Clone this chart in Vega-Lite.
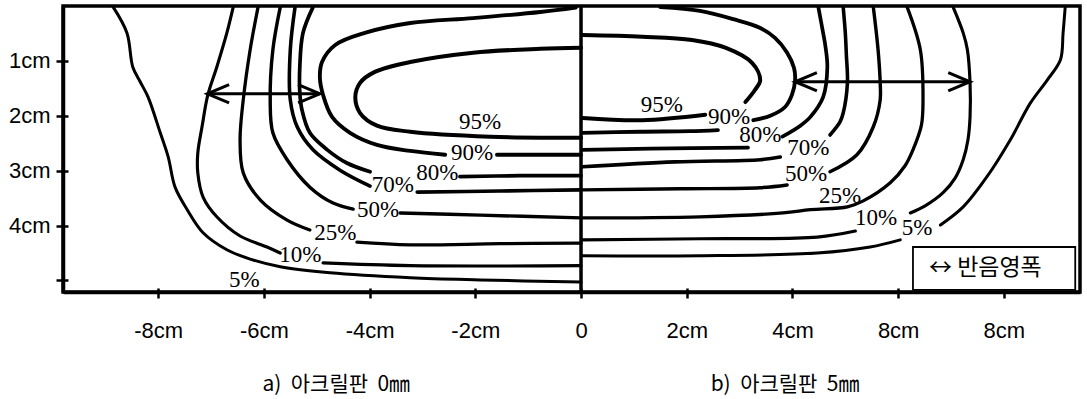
{
  "$schema": "https://vega.github.io/schema/vega-lite/v6.json",
  "width": 1017,
  "height": 286,
  "autosize": {"type": "none"},
  "padding": {"left": 63, "top": 6, "right": 7, "bottom": 107},
  "background": "white",
  "config": {"view": {"stroke": "black", "strokeWidth": 3.5}},
  "datasets": {
    "lines": [
      {"s":"L5","c":"5%","o":1,"x":-8.85,"y":0.02},{"s":"L5","c":"5%","o":2,"x":-8.59,"y":0.49},{"s":"L5","c":"5%","o":3,"x":-8.48,"y":1.11},{"s":"L5","c":"5%","o":4,"x":-8.34,"y":1.38},{"s":"L5","c":"5%","o":5,"x":-8.19,"y":1.66},{"s":"L5","c":"5%","o":6,"x":-7.96,"y":2.31},{"s":"L5","c":"5%","o":7,"x":-7.81,"y":2.75},{"s":"L5","c":"5%","o":8,"x":-7.68,"y":3.30},{"s":"L5","c":"5%","o":9,"x":-7.45,"y":3.71},{"s":"L5","c":"5%","o":10,"x":-7.15,"y":4.13},{"s":"L5","c":"5%","o":11,"x":-6.70,"y":4.44},{"s":"L5","c":"5%","o":12,"x":-6.26,"y":4.61},{"s":"L5","c":"5%","o":13,"x":-5.69,"y":4.75},{"s":"L5","c":"5%","o":14,"x":-4.75,"y":4.86},{"s":"L5","c":"5%","o":15,"x":-3.23,"y":4.95},{"s":"L5","c":"5%","o":16,"x":-1.91,"y":4.99},{"s":"L5","c":"5%","o":17,"x":0,"y":5.03},
      {"s":"L10a","c":"10%","o":1,"x":-6.58,"y":0.02},{"s":"L10a","c":"10%","o":2,"x":-6.70,"y":0.49},{"s":"L10a","c":"10%","o":3,"x":-6.89,"y":1.11},{"s":"L10a","c":"10%","o":4,"x":-7.06,"y":1.62},{"s":"L10a","c":"10%","o":5,"x":-7.17,"y":2.20},{"s":"L10a","c":"10%","o":6,"x":-7.25,"y":2.68},{"s":"L10a","c":"10%","o":7,"x":-7.25,"y":3.04},{"s":"L10a","c":"10%","o":8,"x":-7.15,"y":3.48},{"s":"L10a","c":"10%","o":9,"x":-6.89,"y":3.84},{"s":"L10a","c":"10%","o":10,"x":-6.45,"y":4.19},{"s":"L10a","c":"10%","o":11,"x":-5.94,"y":4.39},{"s":"L10a","c":"10%","o":12,"x":-5.69,"y":4.50},
      {"s":"L10b","c":"10%","o":1,"x":-4.88,"y":4.68},{"s":"L10b","c":"10%","o":2,"x":-3.23,"y":4.73},{"s":"L10b","c":"10%","o":3,"x":0,"y":4.73},
      {"s":"L25a","c":"25%","o":1,"x":-6.11,"y":0.02},{"s":"L25a","c":"25%","o":2,"x":-6.26,"y":0.80},{"s":"L25a","c":"25%","o":3,"x":-6.39,"y":1.71},{"s":"L25a","c":"25%","o":4,"x":-6.45,"y":2.44},{"s":"L25a","c":"25%","o":5,"x":-6.39,"y":3.04},{"s":"L25a","c":"25%","o":6,"x":-6.07,"y":3.53},{"s":"L25a","c":"25%","o":7,"x":-5.56,"y":3.90},{"s":"L25a","c":"25%","o":8,"x":-5.13,"y":4.08},
      {"s":"L25b","c":"25%","o":1,"x":-4.24,"y":4.30},{"s":"L25b","c":"25%","o":2,"x":-3.23,"y":4.35},{"s":"L25b","c":"25%","o":3,"x":-1.53,"y":4.33},{"s":"L25b","c":"25%","o":4,"x":0,"y":4.32},
      {"s":"L50a","c":"50%","o":1,"x":-5.69,"y":0.02},{"s":"L50a","c":"50%","o":2,"x":-5.83,"y":0.80},{"s":"L50a","c":"50%","o":3,"x":-5.88,"y":1.71},{"s":"L50a","c":"50%","o":4,"x":-5.83,"y":2.31},{"s":"L50a","c":"50%","o":5,"x":-5.56,"y":2.80},{"s":"L50a","c":"50%","o":6,"x":-5.13,"y":3.30},{"s":"L50a","c":"50%","o":7,"x":-4.69,"y":3.59},{"s":"L50a","c":"50%","o":8,"x":-4.31,"y":3.70},
      {"s":"L50b","c":"50%","o":1,"x":-3.42,"y":3.77},{"s":"L50b","c":"50%","o":2,"x":-1.91,"y":3.81},{"s":"L50b","c":"50%","o":3,"x":0,"y":3.86},
      {"s":"L70a","c":"70%","o":1,"x":-5.41,"y":0.02},{"s":"L70a","c":"70%","o":2,"x":-5.50,"y":0.80},{"s":"L70a","c":"70%","o":3,"x":-5.50,"y":1.71},{"s":"L70a","c":"70%","o":4,"x":-5.37,"y":2.20},{"s":"L70a","c":"70%","o":5,"x":-5.07,"y":2.62},{"s":"L70a","c":"70%","o":6,"x":-4.56,"y":2.99},{"s":"L70a","c":"70%","o":7,"x":-3.99,"y":3.28},
      {"s":"L70b","c":"70%","o":1,"x":-3.10,"y":3.39},{"s":"L70b","c":"70%","o":2,"x":-1.53,"y":3.37},{"s":"L70b","c":"70%","o":3,"x":0,"y":3.35},
      {"s":"L80a","c":"80%","o":1,"x":-5.07,"y":0.02},{"s":"L80a","c":"80%","o":2,"x":-5.26,"y":0.49},{"s":"L80a","c":"80%","o":3,"x":-5.32,"y":1.11},{"s":"L80a","c":"80%","o":4,"x":-5.32,"y":1.58},{"s":"L80a","c":"80%","o":5,"x":-5.28,"y":1.89},{"s":"L80a","c":"80%","o":6,"x":-5.13,"y":2.31},{"s":"L80a","c":"80%","o":7,"x":-4.80,"y":2.62},{"s":"L80a","c":"80%","o":8,"x":-4.43,"y":2.86},{"s":"L80a","c":"80%","o":9,"x":-3.99,"y":3.02},
      {"s":"L80b","c":"80%","o":1,"x":-2.29,"y":3.11},{"s":"L80b","c":"80%","o":2,"x":-1.15,"y":3.09},{"s":"L80b","c":"80%","o":3,"x":0,"y":3.09},
      {"s":"L90a","c":"90%","o":1,"x":-0.10,"y":0.03},{"s":"L90a","c":"90%","o":2,"x":-0.77,"y":0.11},{"s":"L90a","c":"90%","o":3,"x":-2.04,"y":0.22},{"s":"L90a","c":"90%","o":4,"x":-3.23,"y":0.31},{"s":"L90a","c":"90%","o":5,"x":-4.09,"y":0.49},{"s":"L90a","c":"90%","o":6,"x":-4.65,"y":0.71},{"s":"L90a","c":"90%","o":7,"x":-4.90,"y":1.02},{"s":"L90a","c":"90%","o":8,"x":-4.94,"y":1.31},{"s":"L90a","c":"90%","o":9,"x":-4.88,"y":1.62},{"s":"L90a","c":"90%","o":10,"x":-4.71,"y":2.02},{"s":"L90a","c":"90%","o":11,"x":-4.37,"y":2.31},{"s":"L90a","c":"90%","o":12,"x":-3.86,"y":2.53},{"s":"L90a","c":"90%","o":13,"x":-3.23,"y":2.64},{"s":"L90a","c":"90%","o":14,"x":-2.57,"y":2.71},
      {"s":"L90b","c":"90%","o":1,"x":-1.59,"y":2.71},{"s":"L90b","c":"90%","o":2,"x":0,"y":2.71},
      {"s":"L95","c":"95%","o":1,"x":0,"y":0.76},{"s":"L95","c":"95%","o":2,"x":-0.77,"y":0.78},{"s":"L95","c":"95%","o":3,"x":-2.04,"y":0.85},{"s":"L95","c":"95%","o":4,"x":-3.23,"y":1.02},{"s":"L95","c":"95%","o":5,"x":-3.90,"y":1.20},{"s":"L95","c":"95%","o":6,"x":-4.18,"y":1.40},{"s":"L95","c":"95%","o":7,"x":-4.27,"y":1.66},{"s":"L95","c":"95%","o":8,"x":-4.18,"y":1.95},{"s":"L95","c":"95%","o":9,"x":-3.86,"y":2.18},{"s":"L95","c":"95%","o":10,"x":-3.23,"y":2.29},{"s":"L95","c":"95%","o":11,"x":-1.72,"y":2.38},{"s":"L95","c":"95%","o":12,"x":0,"y":2.40},
      {"s":"R95a","c":"95%","o":1,"x":0.03,"y":0.53},{"s":"R95a","c":"95%","o":2,"x":1.16,"y":0.56},{"s":"R95a","c":"95%","o":3,"x":2.10,"y":0.62},{"s":"R95a","c":"95%","o":4,"x":2.73,"y":0.76},{"s":"R95a","c":"95%","o":5,"x":3.24,"y":1.04},{"s":"R95a","c":"95%","o":6,"x":3.39,"y":1.35},{"s":"R95a","c":"95%","o":7,"x":3.29,"y":1.53},{"s":"R95a","c":"95%","o":8,"x":3.11,"y":1.75},
      {"s":"R95b","c":"95%","o":1,"x":0.03,"y":2.04},{"s":"R95b","c":"95%","o":2,"x":1.16,"y":2.08},{"s":"R95b","c":"95%","o":3,"x":2.35,"y":1.98},
      {"s":"R90a","c":"90%","o":1,"x":0.03,"y":2.31},{"s":"R90a","c":"90%","o":2,"x":1.12,"y":2.29},{"s":"R90a","c":"90%","o":3,"x":2.06,"y":2.28},{"s":"R90a","c":"90%","o":4,"x":2.59,"y":2.26},
      {"s":"R90b","c":"90%","o":1,"x":3.26,"y":2.08},{"s":"R90b","c":"90%","o":2,"x":3.58,"y":2.00},{"s":"R90b","c":"90%","o":3,"x":3.86,"y":1.84},{"s":"R90b","c":"90%","o":4,"x":3.99,"y":1.62},{"s":"R90b","c":"90%","o":5,"x":4.05,"y":1.35},{"s":"R90b","c":"90%","o":6,"x":4.03,"y":1.13},{"s":"R90b","c":"90%","o":7,"x":3.90,"y":0.85},{"s":"R90b","c":"90%","o":8,"x":3.67,"y":0.58},{"s":"R90b","c":"90%","o":9,"x":3.39,"y":0.40},{"s":"R90b","c":"90%","o":10,"x":2.88,"y":0.24},{"s":"R90b","c":"90%","o":11,"x":2.25,"y":0.09},{"s":"R90b","c":"90%","o":12,"x":1.50,"y":0.02},
      {"s":"R80a","c":"80%","o":1,"x":0.03,"y":2.62},{"s":"R80a","c":"80%","o":2,"x":1.31,"y":2.60},{"s":"R80a","c":"80%","o":3,"x":3.16,"y":2.58},
      {"s":"R80b","c":"80%","o":1,"x":3.81,"y":2.38},{"s":"R80b","c":"80%","o":2,"x":4.15,"y":2.18},{"s":"R80b","c":"80%","o":3,"x":4.34,"y":2.02},{"s":"R80b","c":"80%","o":4,"x":4.58,"y":1.66},{"s":"R80b","c":"80%","o":5,"x":4.66,"y":1.11},{"s":"R80b","c":"80%","o":6,"x":4.62,"y":0.71},{"s":"R80b","c":"80%","o":7,"x":4.58,"y":0.49},{"s":"R80b","c":"80%","o":8,"x":4.49,"y":0.02},
      {"s":"R70a","c":"70%","o":1,"x":0.03,"y":2.93},{"s":"R70a","c":"70%","o":2,"x":1.78,"y":2.84},{"s":"R70a","c":"70%","o":3,"x":3.39,"y":2.80},{"s":"R70a","c":"70%","o":4,"x":3.77,"y":2.75},
      {"s":"R70b","c":"70%","o":1,"x":4.71,"y":2.35},{"s":"R70b","c":"70%","o":2,"x":4.90,"y":2.11},{"s":"R70b","c":"70%","o":3,"x":4.96,"y":1.95},{"s":"R70b","c":"70%","o":4,"x":5.04,"y":1.40},{"s":"R70b","c":"70%","o":5,"x":5.02,"y":0.89},{"s":"R70b","c":"70%","o":6,"x":5.00,"y":0.49},{"s":"R70b","c":"70%","o":7,"x":4.96,"y":0.02},
      {"s":"R50a","c":"50%","o":1,"x":0.03,"y":3.35},{"s":"R50a","c":"50%","o":2,"x":1.88,"y":3.33},{"s":"R50a","c":"50%","o":3,"x":3.39,"y":3.31},{"s":"R50a","c":"50%","o":4,"x":3.90,"y":3.26},
      {"s":"R50b","c":"50%","o":1,"x":4.71,"y":3.02},{"s":"R50b","c":"50%","o":2,"x":5.22,"y":2.71},{"s":"R50b","c":"50%","o":3,"x":5.53,"y":2.20},{"s":"R50b","c":"50%","o":4,"x":5.66,"y":1.71},{"s":"R50b","c":"50%","o":5,"x":5.66,"y":1.40},{"s":"R50b","c":"50%","o":6,"x":5.62,"y":0.80},{"s":"R50b","c":"50%","o":7,"x":5.53,"y":0.02},
      {"s":"R25","c":"25%","o":1,"x":0.03,"y":3.86},{"s":"R25","c":"25%","o":2,"x":2.25,"y":3.84},{"s":"R25","c":"25%","o":3,"x":3.82,"y":3.77},{"s":"R25","c":"25%","o":4,"x":4.34,"y":3.71},{"s":"R25","c":"25%","o":5,"x":5.04,"y":3.66},{"s":"R25","c":"25%","o":6,"x":5.34,"y":3.55},{"s":"R25","c":"25%","o":7,"x":5.85,"y":3.22},{"s":"R25","c":"25%","o":8,"x":6.13,"y":2.91},{"s":"R25","c":"25%","o":9,"x":6.28,"y":2.62},{"s":"R25","c":"25%","o":10,"x":6.44,"y":2.17},{"s":"R25","c":"25%","o":11,"x":6.47,"y":1.71},{"s":"R25","c":"25%","o":12,"x":6.42,"y":0.80},{"s":"R25","c":"25%","o":13,"x":6.17,"y":0.02},
      {"s":"R10a","c":"10%","o":1,"x":0.03,"y":4.26},{"s":"R10a","c":"10%","o":2,"x":2.25,"y":4.24},{"s":"R10a","c":"10%","o":3,"x":4.47,"y":4.21},{"s":"R10a","c":"10%","o":4,"x":5.19,"y":4.10},
      {"s":"R10b","c":"10%","o":1,"x":6.23,"y":3.77},{"s":"R10b","c":"10%","o":2,"x":6.51,"y":3.64},{"s":"R10b","c":"10%","o":3,"x":6.85,"y":3.40},{"s":"R10b","c":"10%","o":4,"x":7.08,"y":3.13},{"s":"R10b","c":"10%","o":5,"x":7.23,"y":2.80},{"s":"R10b","c":"10%","o":6,"x":7.32,"y":2.44},{"s":"R10b","c":"10%","o":7,"x":7.36,"y":2.02},{"s":"R10b","c":"10%","o":8,"x":7.36,"y":1.40},{"s":"R10b","c":"10%","o":9,"x":7.31,"y":0.80},{"s":"R10b","c":"10%","o":10,"x":7.23,"y":0.49},{"s":"R10b","c":"10%","o":11,"x":7.04,"y":0.02},
      {"s":"R5a","c":"5%","o":1,"x":0.03,"y":4.55},{"s":"R5a","c":"5%","o":2,"x":2.25,"y":4.55},{"s":"R5a","c":"5%","o":3,"x":4.47,"y":4.50},{"s":"R5a","c":"5%","o":4,"x":5.47,"y":4.39},{"s":"R5a","c":"5%","o":5,"x":6.04,"y":4.26},
      {"s":"R5b","c":"5%","o":1,"x":6.80,"y":3.99},{"s":"R5b","c":"5%","o":2,"x":7.23,"y":3.66},{"s":"R5b","c":"5%","o":3,"x":7.68,"y":3.11},{"s":"R5b","c":"5%","o":4,"x":8.12,"y":2.44},{"s":"R5b","c":"5%","o":5,"x":8.50,"y":1.77},{"s":"R5b","c":"5%","o":6,"x":8.82,"y":1.35},{"s":"R5b","c":"5%","o":7,"x":9.07,"y":0.98},{"s":"R5b","c":"5%","o":8,"x":9.12,"y":0.49},{"s":"R5b","c":"5%","o":9,"x":9.16,"y":0.02}
    ],
    "pct": [
      {"t":"95%","x":-1.91,"y":2.11},{"t":"90%","x":-2.06,"y":2.68},{"t":"80%","x":-2.72,"y":3.04},{"t":"70%","x":-3.56,"y":3.26},{"t":"50%","x":-3.84,"y":3.71},{"t":"25%","x":-4.65,"y":4.13},{"t":"10%","x":-5.31,"y":4.53},{"t":"5%","x":-6.37,"y":4.99},
      {"t":"95%","x":1.53,"y":1.80},{"t":"90%","x":2.80,"y":2.02},{"t":"80%","x":3.39,"y":2.35},{"t":"70%","x":4.30,"y":2.58},{"t":"50%","x":4.26,"y":3.06},{"t":"25%","x":4.90,"y":3.46},{"t":"10%","x":5.58,"y":3.86},{"t":"5%","x":6.36,"y":4.04}
    ],
    "arrows": [
      {"id":"a","x":-7.07,"x2":-4.94,"y":1.60},
      {"id":"b","x":4.05,"x2":7.36,"y":1.38}
    ],
    "heads": [
      {"d":"l","x":-7.07,"y":1.60},{"d":"r","x":-4.94,"y":1.60},
      {"d":"l","x":4.05,"y":1.38},{"d":"r","x":7.36,"y":1.38}
    ],
    "divider": [{"x":0,"y":0,"y2":5.21}],
    "legendbox": [{"x":6.28,"x2":9.35,"y":4.39,"y2":5.17,"t":"↔ 반음영폭","tx":7.65,"ty":4.77}],
    "captions": [
      {"t":"a)\u00a0\u00a0아크릴판\u00a0\u00a00㎜","x":-4.63,"y":6.90},
      {"t":"b)\u00a0\u00a0아크릴판\u00a0\u00a05㎜","x":3.86,"y":6.90}
    ]
  },
  "layer": [
    {
      "data": {"name": "lines"},
      "mark": {"type": "line", "interpolate": "catmull-rom", "color": "black", "strokeCap": "round", "strokeJoin": "round"},
      "encoding": {
        "x": {"field": "x", "type": "quantitative", "scale": {"domain": [-9.8, 9.44], "nice": false, "zero": false},
          "axis": {"orient": "bottom", "values": [-8,-6,-4,-2,0,2,4,6,8], "labelExpr": "datum.value == 0 ? '0' : (datum.value == 6 ? '8cm' : datum.value + 'cm')", "title": null, "grid": false, "domain": true, "domainColor": "black", "domainWidth": 3.5, "tickColor": "black", "tickWidth": 2.5, "tickSize": 6, "labelFont": "Liberation Sans", "labelFontSize": 22, "labelColor": "black", "labelPadding": 22}},
        "y": {"field": "y", "type": "quantitative", "scale": {"domain": [0, 5.21], "reverse": true, "nice": false, "zero": false},
          "axis": {"orient": "left", "values": [1,2,3,4,5], "labelExpr": "datum.value < 5 ? datum.value + 'cm' : ''", "title": null, "grid": false, "domain": true, "domainColor": "black", "domainWidth": 3.5, "tickColor": "black", "tickWidth": 2.5, "tickSize": 7, "labelFont": "Liberation Sans", "labelFontSize": 22, "labelColor": "black", "labelPadding": 6}},
        "detail": {"field": "s"},
        "order": {"field": "o", "type": "quantitative"},
        "strokeWidth": {"field": "c", "type": "nominal", "scale": {"domain": ["5%","10%","25%","50%","70%","80%","90%","95%"], "range": [3,4,3,3.2,3.2,3,3,3]}, "legend": null}
      }
    },
    {
      "data": {"name": "divider"},
      "mark": {"type": "rule", "color": "black", "strokeWidth": 3.5},
      "encoding": {
        "x": {"field": "x", "type": "quantitative", "scale": {"domain": [-9.8, 9.44], "nice": false, "zero": false},
          "axis": {"orient": "bottom", "values": [-8,-6,-4,-2,0,2,4,6,8], "labels": false, "domain": false, "grid": false, "title": null, "tickColor": "black", "tickWidth": 2.5, "tickSize": -4}},
        "y": {"field": "y", "type": "quantitative", "scale": {"domain": [0, 5.21], "reverse": true, "nice": false, "zero": false},
          "axis": {"orient": "left", "values": [1,2,3,4,5], "labels": false, "domain": false, "grid": false, "title": null, "tickColor": "black", "tickWidth": 2.5, "tickSize": -5}},
        "y2": {"field": "y2"}
      }
    },
    {
      "data": {"name": "arrows"},
      "mark": {"type": "rule", "color": "black", "strokeWidth": 3},
      "encoding": {
        "x": {"field": "x", "type": "quantitative", "scale": {"domain": [-9.8, 9.44], "nice": false, "zero": false}, "axis": null},
        "x2": {"field": "x2"},
        "y": {"field": "y", "type": "quantitative", "scale": {"domain": [0, 5.21], "reverse": true, "nice": false, "zero": false}, "axis": null}
      }
    },
    {
      "data": {"name": "heads"},
      "mark": {"type": "point", "filled": false, "stroke": "black", "strokeWidth": 3, "size": 1900, "opacity": 1, "strokeJoin": "miter"},
      "encoding": {
        "x": {"field": "x", "type": "quantitative", "scale": {"domain": [-9.8, 9.44], "nice": false, "zero": false}, "axis": null},
        "y": {"field": "y", "type": "quantitative", "scale": {"domain": [0, 5.21], "reverse": true, "nice": false, "zero": false}, "axis": null},
        "shape": {"field": "d", "type": "nominal", "scale": {"domain": ["l","r"], "range": ["M1,-0.42L0,0L1,0.42", "M-1,-0.42L0,0L-1,0.42"]}, "legend": null}
      }
    },
    {
      "data": {"name": "pct"},
      "mark": {"type": "text", "font": "Liberation Serif", "fontSize": 23, "color": "black", "align": "center", "baseline": "middle"},
      "encoding": {
        "x": {"field": "x", "type": "quantitative", "scale": {"domain": [-9.8, 9.44], "nice": false, "zero": false}, "axis": null},
        "y": {"field": "y", "type": "quantitative", "scale": {"domain": [0, 5.21], "reverse": true, "nice": false, "zero": false}, "axis": null},
        "text": {"field": "t"}
      }
    },
    {
      "data": {"name": "legendbox"},
      "mark": {"type": "rect", "fill": "white", "stroke": "black", "strokeWidth": 1.8},
      "encoding": {
        "x": {"field": "x", "type": "quantitative", "scale": {"domain": [-9.8, 9.44], "nice": false, "zero": false}, "axis": null},
        "x2": {"field": "x2"},
        "y": {"field": "y", "type": "quantitative", "scale": {"domain": [0, 5.21], "reverse": true, "nice": false, "zero": false}, "axis": null},
        "y2": {"field": "y2"}
      }
    },
    {
      "data": {"name": "legendbox"},
      "mark": {"type": "text", "font": "Noto Sans CJK KR", "fontSize": 23, "color": "black", "align": "center", "baseline": "middle"},
      "encoding": {
        "x": {"field": "tx", "type": "quantitative", "scale": {"domain": [-9.8, 9.44], "nice": false, "zero": false}, "axis": null},
        "y": {"field": "ty", "type": "quantitative", "scale": {"domain": [0, 5.21], "reverse": true, "nice": false, "zero": false}, "axis": null},
        "text": {"field": "t"}
      }
    },
    {
      "data": {"name": "captions"},
      "mark": {"type": "text", "font": "Noto Sans CJK KR", "fontSize": 21, "color": "black", "align": "center", "baseline": "middle"},
      "encoding": {
        "x": {"field": "x", "type": "quantitative", "scale": {"domain": [-9.8, 9.44], "nice": false, "zero": false}, "axis": null},
        "y": {"field": "y", "type": "quantitative", "scale": {"domain": [0, 5.21], "reverse": true, "nice": false, "zero": false}, "axis": null},
        "text": {"field": "t"}
      }
    }
  ],
  "resolve": {"axis": {"x": "independent", "y": "independent"}}
}
